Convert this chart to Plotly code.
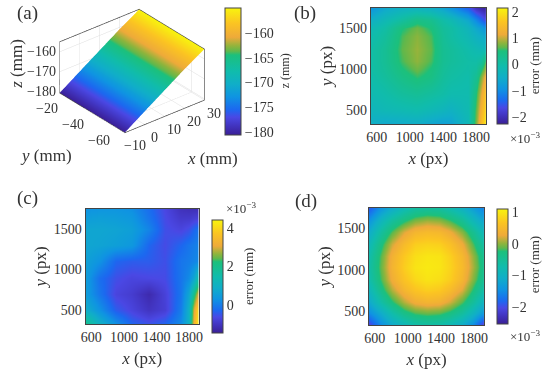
import plotly.graph_objects as go

W, H = 550, 373

# shared colour map
cmap = [[0, "#3a1f96"], [0.06, "#4030b8"], [0.14, "#4a48e4"], [0.2, "#1c68f0"],
        [0.3, "#0f94e2"], [0.4, "#10aec8"], [0.5, "#10bcac"], [0.63, "#1cc07c"],
        [0.66, "#60b84c"], [0.7, "#90b43c"], [0.77, "#eeaa3a"], [0.88, "#fbc422"],
        [1, "#f8f40e"]]

# panel a
a_x = [-10, 0, 10, 20, 30]
a_y = [-70, -20]
a_z = [[-180.6, -174, -167.5, -161, -155], [-180.6, -174, -167.5, -161, -155]]
a_x_ticks = [-10, 0, 10, 20, 30]
a_y_ticks = [-60, -40, -20]
a_z_ticks = [-180, -170, -160]

# panel b
b_x = [530, 700, 900, 1080, 1255, 1400, 1500, 1700, 1800, 1860, 1920]
b_y = [330, 500, 700, 900, 1000, 1100, 1250, 1400, 1500, 1600, 1745]
b_z = [[-0.45, -0.6, -0.55, -0.5, -0.65, -0.75, -0.7, -0.25, 0.75, 1.5, 2.1],
       [-0.3, -0.2, -0.15, -0.1, -0.2, -0.3, -0.4, -0.15, 0.65, 1.3, 1.9],
       [-0.15, -0.05, 0.12, 0.2, 0.1, 0.0, -0.1, -0.1, 0.5, 1.1, 1.7],
       [-0.05, 0.12, 0.38, 0.55, 0.42, 0.15, 0.05, -0.05, 0.25, 0.75, 1.3],
       [0.0, 0.18, 0.5, 0.7, 0.5, 0.2, 0.1, 0.0, 0.1, 0.45, 0.9],
       [0.0, 0.22, 0.6, 0.82, 0.6, 0.25, 0.15, 0.02, 0.0, 0.1, 0.65],
       [0.0, 0.22, 0.65, 0.85, 0.65, 0.25, 0.15, -0.05, -0.15, -0.2, -0.25],
       [-0.1, 0.12, 0.6, 0.8, 0.6, 0.2, 0.05, -0.2, -0.4, -0.5, -0.6],
       [-0.2, 0.02, 0.5, 0.7, 0.5, 0.15, 0.05, -0.3, -0.6, -0.75, -0.95],
       [-0.45, -0.2, 0.1, 0.4, 0.3, 0.0, -0.15, -0.6, -1.05, -1.35, -1.65],
       [-0.9, -0.6, -0.4, -0.35, -0.45, -0.65, -0.9, -1.45, -1.95, -2.1, -2.2]]

# panel c
c_x = [530, 700, 900, 1100, 1300, 1500, 1700, 1800, 1860, 1920]
c_y = [330, 500, 700, 900, 1100, 1300, 1500, 1640, 1745]
c_z = [[2.0, 1.0, 0.3, -0.3, -0.5, -0.3, 0.2, 1.0, 3.3, 4.4],
       [0.9, 0.3, -0.4, -0.7, -1.0, -0.8, 0.0, 1.0, 3.0, 4.2],
       [0.5, -0.1, -0.7, -0.85, -1.2, -0.75, -0.1, 0.7, 2.0, 3.2],
       [0.5, -0.2, -0.55, -0.7, -0.65, -0.6, -0.1, 0.2, 0.7, 1.6],
       [0.6, 0.3, -0.3, -0.4, -0.4, -0.55, -0.1, 0.0, 0.1, 0.2],
       [0.7, 0.65, 0.55, 0.4, -0.3, -0.6, -0.3, -0.1, 0.0, 0.1],
       [0.7, 0.7, 0.65, 0.55, 0.1, -0.55, -0.7, -0.55, -0.3, -0.1],
       [0.5, 0.55, 0.5, 0.4, -0.1, -0.6, -0.9, -0.9, -0.8, -0.75],
       [0.3, 0.35, 0.35, 0.25, -0.2, -0.65, -1.05, -1.1, -1.1, -1.1]]

# panel d
d_x = [530, 670, 810, 950, 1090, 1230, 1370, 1510, 1650, 1790, 1920]
d_y = [330, 470, 610, 750, 890, 1030, 1170, 1310, 1450, 1590, 1745]
d_z = [[-2.1, -1.5, -1.15, -0.9, -0.7, -0.65, -0.7, -0.85, -1.1, -1.5, -2.2],
       [-1.5, -1.1, -0.7, -0.35, -0.17, -0.1, -0.14, -0.3, -0.57, -0.95, -1.4],
       [-1.15, -0.65, -0.25, 0.1, 0.33, 0.42, 0.38, 0.18, -0.15, -0.55, -1.0],
       [-0.9, -0.35, 0.1, 0.45, 0.65, 0.75, 0.7, 0.52, 0.22, -0.25, -0.7],
       [-0.7, -0.17, 0.33, 0.65, 0.85, 0.95, 0.9, 0.75, 0.45, -0.03, -0.5],
       [-0.65, -0.1, 0.42, 0.75, 0.95, 1.0, 0.97, 0.8, 0.52, 0.07, -0.43],
       [-0.7, -0.14, 0.38, 0.7, 0.9, 0.97, 0.95, 0.77, 0.48, 0.02, -0.47],
       [-0.85, -0.3, 0.18, 0.52, 0.75, 0.8, 0.77, 0.6, 0.3, -0.17, -0.65],
       [-1.1, -0.57, -0.15, 0.22, 0.45, 0.52, 0.48, 0.3, -0.02, -0.44, -0.9],
       [-1.4, -0.9, -0.53, -0.25, -0.03, 0.07, 0.02, -0.17, -0.44, -0.85, -1.2],
       [-1.9, -1.4, -1.1, -0.8, -0.6, -0.55, -0.58, -0.75, -1.0, -1.3, -1.6]]

x_ticks = [600, 1000, 1400, 1800]
y_ticks = [500, 1000, 1500]

FONT = "Liberation Serif"
TXT = "#333333"


def fx(p):
    return p / W


def fy(p):
    return 1 - p / H


fig = go.Figure()


def cbar(x0, x1, y0, y1, vals):
    return dict(x=fx(x0), xanchor="left", xref="paper", y=fy(y1), yanchor="bottom", yref="paper",
                len=(y1 - y0) / H, lenmode="fraction", thickness=x1 - x0, thicknessmode="pixels",
                ticks="", outlinewidth=1, outlinecolor="#444", xpad=0, ypad=0,
                tickvals=vals, ticktext=[str(v).replace("-", "\u2212") for v in vals],
                tickfont=dict(family=FONT, size=14, color=TXT))


# panel (a)
fig.add_trace(go.Surface(x=a_x, y=a_y, z=a_z, colorscale=cmap, cmin=-180.6, cmax=-155,
                         lighting=dict(ambient=1, diffuse=0, specular=0, roughness=1, fresnel=0),
                         hoverinfo="skip", scene="scene",
                         colorbar=cbar(224, 240, 8, 135, [-160, -165, -170, -175, -180])))
axis3d = dict(showbackground=False, showspikes=False, gridcolor="#dddddd", gridwidth=1,
              showline=True, linecolor="#444", linewidth=1.5, mirror=True, zeroline=False,
              ticks="", showticklabels=False, title=dict(text=""))
tf = dict(family=FONT, size=14, color=TXT)


def minus(v):
    return str(v).replace("-", "\u2212")


scene_ann = []
for v in a_x_ticks:
    scene_ann.append(dict(x=v, y=-70, z=-180.6, text=minus(v), showarrow=False, font=tf,
                          xshift=10, yshift=-13))
for v in a_y_ticks:
    scene_ann.append(dict(x=-10, y=v, z=-180.6, text=minus(v), showarrow=False, font=tf,
                          xshift=-13, yshift=-16))
for v in a_z_ticks:
    scene_ann.append(dict(x=-10, y=-20, z=v, text=minus(v), showarrow=False, font=tf,
                          xanchor="right", xshift=-2))

fig.update_layout(scene=dict(
    domain=dict(x=[0, 258 / W], y=[fy(142), fy(0)]),
    xaxis=dict(axis3d, range=[-10, 30], tickvals=a_x_ticks),
    yaxis=dict(axis3d, range=[-70, -20], tickvals=a_y_ticks),
    zaxis=dict(axis3d, range=[-180.6, -155], tickvals=a_z_ticks),
    aspectmode="manual", aspectratio=dict(x=1.45, y=1.45, z=0.83),
    annotations=scene_ann,
    camera=dict(projection=dict(type="orthographic"),
                eye=dict(x=-1.0, y=-1.22, z=0.91), center=dict(x=0, y=0, z=0))))

panels = [
    (b_x, b_y, b_z, "x", "y", (372, 489, 8, 124), (-2.27, 2.15), (500, 511, 8, 124), [-2, -1, 0, 1, 2]),
    (c_x, c_y, c_z, "x2", "y2", (82, 197, 209, 324), (-1.45, 4.4), (210, 221, 220, 333), [0, 2, 4]),
    (d_x, d_y, d_z, "x3", "y3", (370, 487, 208, 325), (-2.53, 1.1), (500, 511, 209, 324), [-2, -1, 0, 1]),
]
for xs, ys, z, xa, ya, box, zr, cb, vals in panels:
    fig.add_trace(go.Heatmap(x=xs, y=ys, z=z, xaxis=xa, yaxis=ya, colorscale=cmap,
                             zmin=zr[0], zmax=zr[1], zsmooth="best", hoverinfo="skip",
                             colorbar=cbar(*cb, vals)))
    sx = "xaxis" + xa[1:]
    sy = "yaxis" + ya[1:]
    common = dict(showgrid=False, zeroline=False, showline=True, mirror=True, linecolor="#444",
                  linewidth=1, ticks="", tickfont=dict(family=FONT, size=14, color=TXT))
    fig.update_layout({
        sx: dict(common, domain=[fx(box[0]), fx(box[1])], range=[530, 1920], tickvals=x_ticks,
                 anchor=ya, title=dict(text="<i>x</i> (px)", standoff=8,
                                       font=dict(family=FONT, size=17, color=TXT))),
        sy: dict(common, domain=[fy(box[3]), fy(box[2])], range=[330, 1745], tickvals=y_ticks,
                 anchor=xa, title=dict(text="<i>y</i> (px)", standoff=2,
                                       font=dict(family=FONT, size=17, color=TXT))),
    })

ann = []


def note(text, x, y, size=14, angle=0, anchor="center"):
    ann.append(dict(text=text, x=fx(x), y=fy(y), xref="paper", yref="paper", showarrow=False,
                    font=dict(family=FONT, size=size, color=TXT), textangle=angle,
                    xanchor=anchor, yanchor="middle"))


note("(a)", 23, 13, 19)
note("(b)", 305, 13, 19)
note("(c)", 23, 198, 19)
note("(d)", 306, 201, 19)
note("<i>z</i> (mm)", 11, 64, 17, -90)
note("<i>y</i> (mm)", 42, 155, 17)
note("<i>x</i> (mm)", 211, 158, 17)
note("z (mm)", 285, 71, 12, -90)
note("error (mm)", 538, 66, 13, -90)
note("error (mm)", 247, 276, 13, -90)
note("error (mm)", 538, 265, 13, -90)
note("\u00d710<sup>\u22123</sup>", 529, 138, 13)
note("\u00d710<sup>\u22123</sup>", 240, 208, 13)
note("\u00d710<sup>\u22123</sup>", 529, 336, 13)

fig.update_layout(width=W, height=H, margin=dict(l=0, r=0, t=0, b=0), paper_bgcolor="white",
                  plot_bgcolor="white", showlegend=False, annotations=ann)

fig.write_html("out.html", post_script="document.body.style.margin='0';",
               config=dict(displayModeBar=False))
